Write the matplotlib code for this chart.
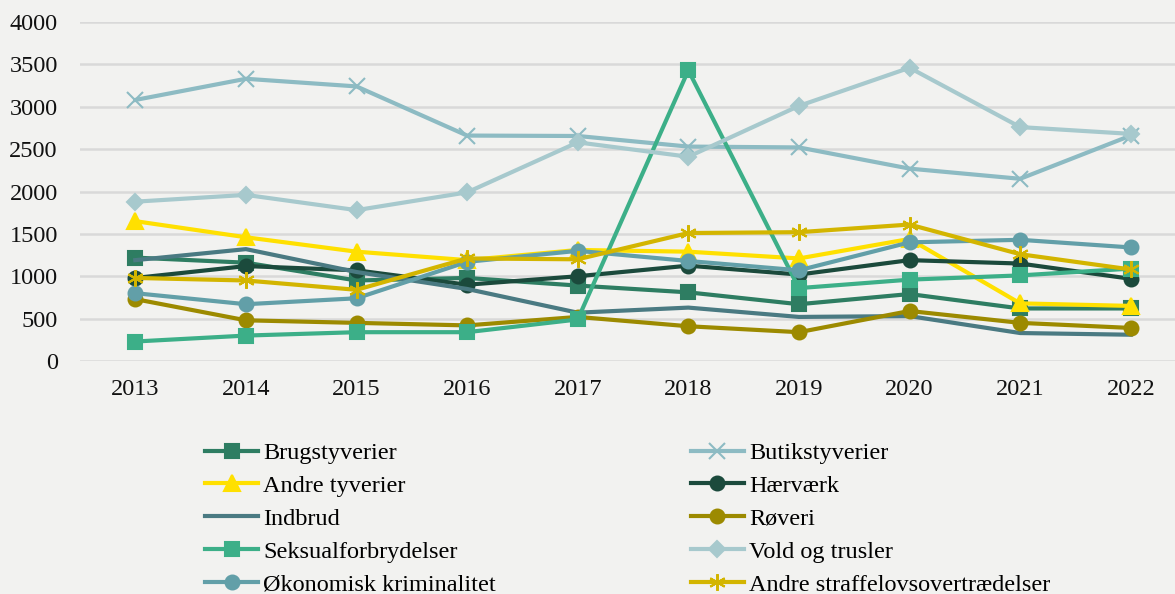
import numpy as np
import matplotlib.pyplot as plt

# reported offences per year
years = ['2013', '2014', '2015', '2016', '2017', '2018', '2019', '2020', '2021', '2022']

brugstyverier = [1220, 1160, 950, 980, 890, 810, 670, 790, 620, 620]
butikstyverier = [3080, 3330, 3240, 2660, 2655, 2530, 2520, 2270, 2150, 2660]
andre_tyverier = [1650, 1460, 1290, 1190, 1310, 1290, 1210, 1440, 680, 650]
haervaerk = [980, 1120, 1070, 900, 1000, 1125, 1020, 1190, 1150, 970]
indbrud = [1190, 1320, 1050, 850, 570, 630, 520, 530, 330, 310]
roveri = [730, 480, 450, 420, 520, 410, 340, 590, 450, 390]
seksual = [230, 300, 340, 340, 490, 3430, 860, 960, 1010, 1090]
vold = [1880, 1960, 1780, 1990, 2580, 2410, 3010, 3460, 2760, 2680]
okonomisk = [800, 670, 740, 1170, 1300, 1180, 1070, 1400, 1430, 1340]
andre_straffe = [980, 950, 840, 1210, 1200, 1510, 1520, 1610, 1260, 1080]

series = [
    ('Brugstyverier', brugstyverier, '#2e7d62', 's'),
    ('Butikstyverier', butikstyverier, '#8dbbc3', 'x'),
    ('Andre tyverier', andre_tyverier, '#ffe000', '^'),
    ('Hærværk', haervaerk, '#1b4a3c', 'o'),
    ('Indbrud', indbrud, '#4a7a82', None),
    ('Røveri', roveri, '#9c8a00', 'o'),
    ('Seksualforbrydelser', seksual, '#3caf88', 's'),
    ('Vold og trusler', vold, '#a7c9cd', 'D'),
    ('Økonomisk kriminalitet', okonomisk, '#629fa8', 'o'),
    ('Andre straffelovsovertrædelser', andre_straffe, '#d3b500', (6, 2, 0)),
]

bg = '#f2f2f0'
plt.rcParams['font.family'] = ['Liberation Serif', 'DejaVu Serif']
fs = 17.5

fig = plt.figure(figsize=(11.75, 5.94), dpi=100, facecolor=bg)
ax = fig.add_axes([80 / 1175, 233 / 594, 1095 / 1175, 339 / 594], facecolor=bg)

x = np.arange(len(years))
handles = []
for name, vals, color, marker in series:
    ms = 10
    mew = 1.5
    if marker == 'x':
        ms, mew = 11, 1.5
    elif marker == 'D':
        ms = 8
    elif marker == '^':
        ms = 11
    elif marker == (6, 2, 0):
        ms, mew = 12, 1.5
    line, = ax.plot(x, vals, color=color, lw=3, marker=marker, markersize=ms,
                    markeredgewidth=mew, markeredgecolor=color, label=name, clip_on=False)
    handles.append(line)

ax.set_xlim(-0.5, 9.4)
ax.set_ylim(0, 4000)
ax.set_yticks(range(0, 4001, 500))
ax.set_xticks(x)
ax.set_xticklabels(years)
ax.yaxis.grid(True, color='#d9d9d9', lw=1.8)
ax.set_axisbelow(True)
ax.tick_params(axis='both', length=0, labelsize=fs, colors='#111111')
ax.tick_params(axis='x', pad=13)
ax.tick_params(axis='y', pad=16)
for s in ax.spines.values():
    s.set_visible(False)

# legend filled row by row, like the original
order = [0, 2, 4, 6, 8, 1, 3, 5, 7, 9]
fig.legend([handles[i] for i in order], [series[i][0] for i in order],
           loc='upper left', bbox_to_anchor=(205 / 1175, 1 - 442 / 594),
           ncol=2, frameon=False, fontsize=fs, handlelength=2.2,
           handletextpad=0.2, labelspacing=0.45, columnspacing=8.0,
           borderpad=0, borderaxespad=0)

fig.savefig('out.png', dpi=100, facecolor=bg)
